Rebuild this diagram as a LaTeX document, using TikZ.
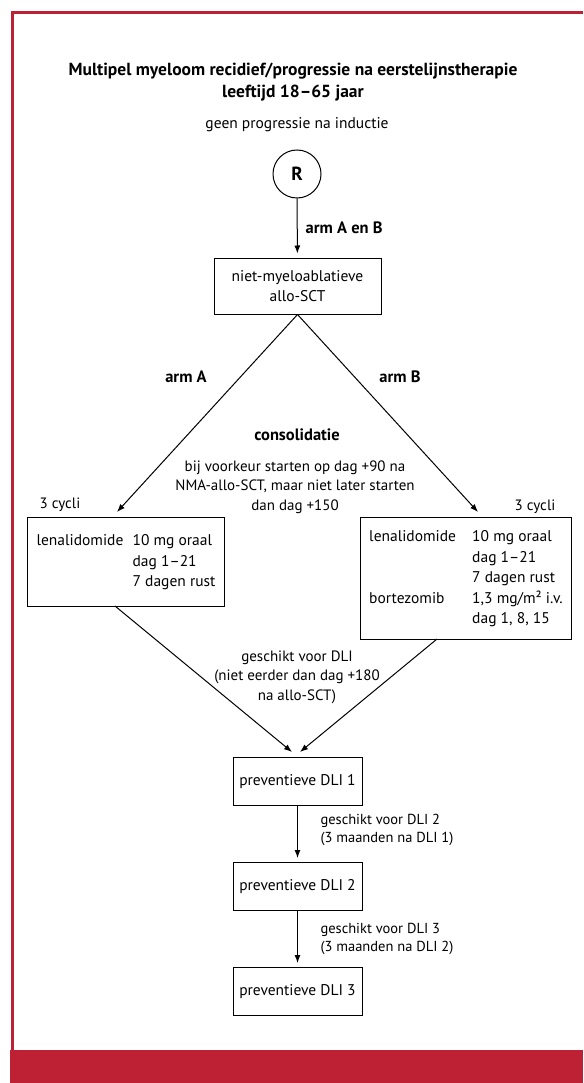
\documentclass[tikz,border=0pt]{standalone}
\usepackage{fontspec}
\setmainfont{PT Sans}
\usepackage{xcolor}
\usetikzlibrary{arrows.meta,positioning}
\definecolor{kaderrood}{RGB}{190,32,52}

\begin{document}
\begin{tikzpicture}[x=1pt,y=-1pt,>={Latex[length=8pt,width=6pt]},line width=1pt,
  blok/.style={draw,line width=1pt,inner sep=0pt,align=center,font=\fontsize{15.5}{20.5}\selectfont},
  tekst/.style={inner sep=0pt,align=center,font=\fontsize{15.5}{20}\selectfont},
  kop/.style={inner sep=0pt,align=center,font=\bfseries\fontsize{17.5}{22}\selectfont},
  vet/.style={inner sep=0pt,font=\bfseries\fontsize{16.5}{20}\selectfont},
  label/.style={inner sep=0pt,align=center,font=\fontsize{15}{19.5}\selectfont}]
  % Kader
  \useasboundingbox (0,0) rectangle (583,1083);
  \fill[kaderrood] (10,1050) rectangle (583,1083);
  \draw[kaderrood,line width=3pt] (12.5,1050) -- (12.5,12.5) -- (583,12.5);
  % Titel
  \node[kop] (titel) at (293,82) {Multipel myeloom recidief/progressie na eerstelijnstherapie\\leeftijd 18--65 jaar};
  \node[tekst] (inductie) at (297,125) {geen progressie na inductie};
  % Randomisatie en allo-SCT
  \node[draw,circle,minimum size=48pt,inner sep=0pt,font=\bfseries\fontsize{19}{20}\selectfont] (R) at (297,174) {R};
  \node[blok,minimum width=167pt,minimum height=56pt] (allo) at (297.5,286) {niet-myeloablatieve\\allo-SCT};
  \draw[->,shorten >=4pt] (R) -- (allo) node[vet,midway,right=8pt] {arm A en B};
  % Consolidatie
  \coordinate (pijlA) at (117,512);
  \coordinate (pijlB) at (478,512);
  \draw[->] (allo.south) -- (pijlA);
  \draw[->] (allo.south) -- (pijlB);
  \node[vet] (armA) at (186,377) {arm A};
  \node[vet] (armB) at (400,377) {arm B};
  \node[vet] (consol) at (297,435) {consolidatie};
  \node[label] (start) at (295,487) {bij voorkeur starten op dag +90 na\\NMA-allo-SCT, maar niet later starten\\dan dag +150};
  \node[label] (cycliA) at (60,505) {3 cycli};
  \node[label] (cycliB) at (535,507) {3 cycli};
  \node[blok,anchor=north west,minimum width=197pt,minimum height=89pt] (lenA) at (27,517)
    {\begin{tabular}{@{}p{96pt}@{}l@{}}lenalidomide & 10 mg oraal\\ & dag 1--21\\ & 7 dagen rust\end{tabular}};
  \node[blok,anchor=north west,minimum width=211pt,minimum height=122pt] (lenB) at (360,517)
    {\begin{tabular}{@{}p{103pt}@{}l@{}}lenalidomide & 10 mg oraal\\ & dag 1--21\\ & 7 dagen rust\\bortezomib & 1,3 mg/m² i.v.\\ & dag 1, 8, 15\end{tabular}};
  % DLI
  \node[blok,anchor=north,minimum width=129pt,minimum height=48pt] (dli1) at (297.5,757) {preventieve DLI 1};
  \node[blok,anchor=north,minimum width=129pt,minimum height=48pt] (dli2) at (297.5,862) {preventieve DLI 2};
  \node[blok,anchor=north,minimum width=129pt,minimum height=48pt] (dli3) at (297.5,967) {preventieve DLI 3};
  \coordinate (vanA) at (115,606);
  \coordinate (vanB) at (437,639);
  \coordinate (naarA) at (292,752);
  \coordinate (naarB) at (300,752);
  \draw[->] (vanA) -- (naarA);
  \draw[->] (vanB) -- (naarB);
  \node[label] (geschikt) at (297,677) {geschikt voor DLI\\(niet eerder dan dag +180\\na allo-SCT)};
  \draw[->,shorten >=4pt] (dli1) -- (dli2);
  \draw[->,shorten >=4pt] (dli2) -- (dli3);
  \node[label,anchor=west,align=left,font=\fontsize{14.5}{18}\selectfont] (geschikt2) at (320,830) {geschikt voor DLI 2\\(3 maanden na DLI 1)};
  \node[label,anchor=west,align=left,font=\fontsize{14.5}{18}\selectfont] (geschikt3) at (320,939) {geschikt voor DLI 3\\(3 maanden na DLI 2)};
\end{tikzpicture}
\end{document}
